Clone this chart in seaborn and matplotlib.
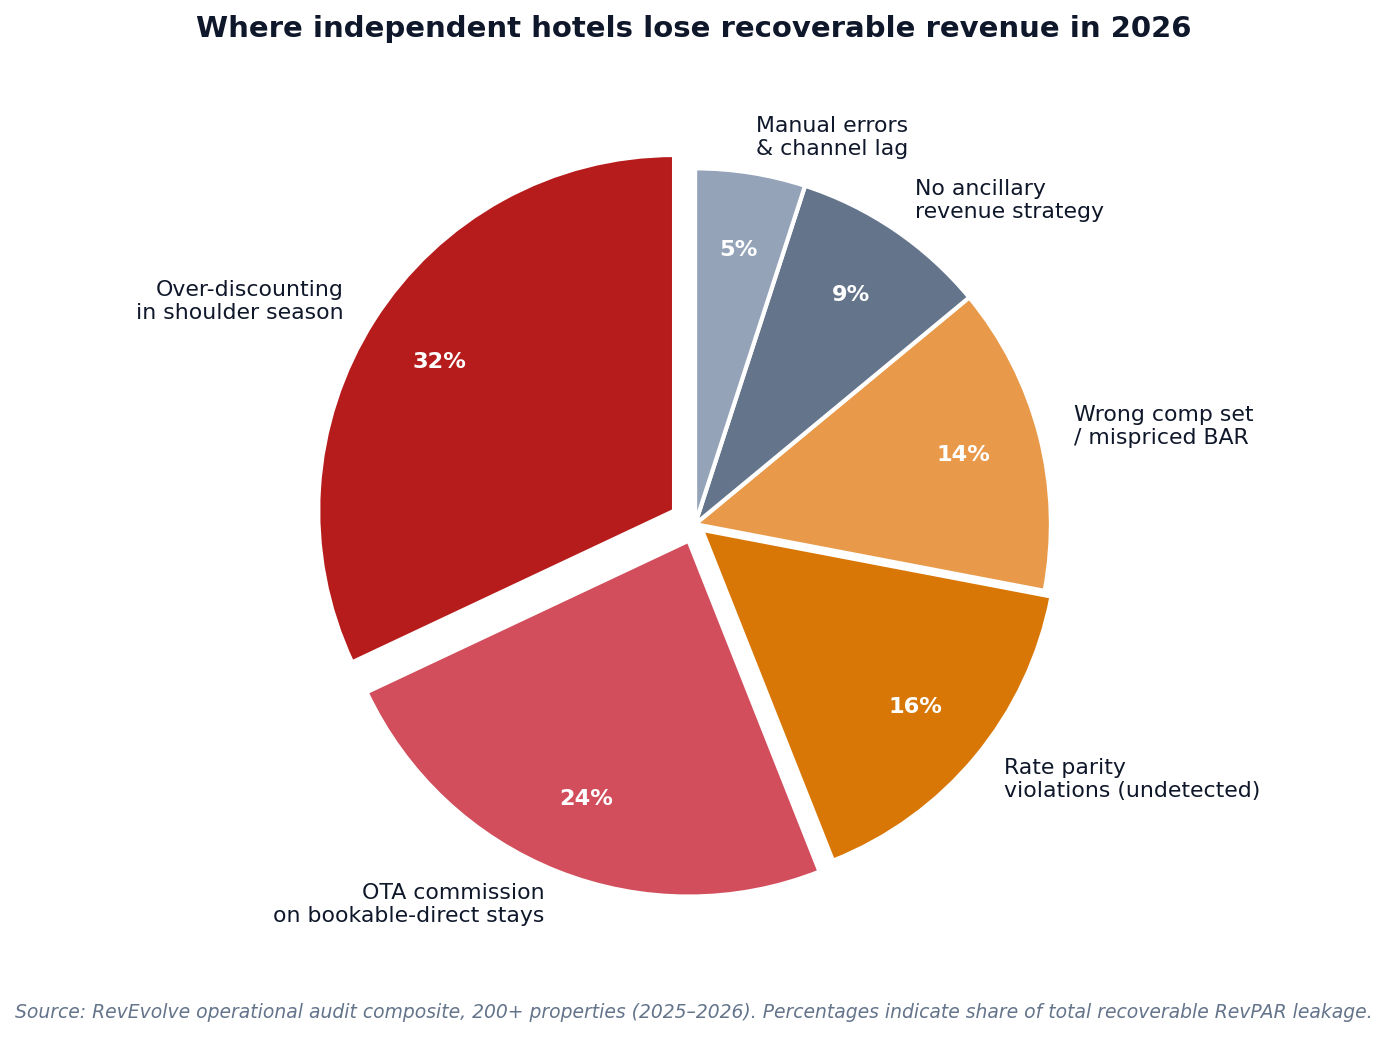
import matplotlib
matplotlib.use("Agg")
import matplotlib.pyplot as plt
import seaborn as sns

# ------------------ DATA ------------------
categories = [
    "Over-discounting\nin shoulder season",
    "OTA commission\non bookable-direct stays",
    "Rate parity\nviolations (undetected)",
    "Wrong comp set\n/ mispriced BAR",
    "No ancillary\nrevenue strategy",
    "Manual errors\n& channel lag",
]
shares = [32, 24, 16, 14, 9, 5]
colors = ["#B71C1D", "#D24E5C", "#D97706", "#E89A4A", "#64748B", "#94A3B8"]
explode = [0.07, 0.05, 0.025, 0, 0, 0]

title = "Where independent hotels lose recoverable revenue in 2026"
source = ("Source: RevEvolve operational audit composite, 200+ properties (2025\u20132026). "
          "Percentages indicate share of total recoverable RevPAR leakage.")

# ------------------ PLOT ------------------
sns.set_theme(style="white")
plt.rcParams['font.family'] = ['DejaVu Sans']

fig = plt.figure(figsize=(13.87, 10.38), dpi=100)
ax = fig.add_axes([0.1803, 0.0665, 0.6417, 0.857])

wedges, texts, autotexts = ax.pie(
    shares,
    labels=categories,
    colors=colors,
    explode=explode,
    startangle=90,
    autopct=lambda p: f"{p:.0f}%",
    pctdistance=0.78,
    labeldistance=1.1,
    wedgeprops=dict(edgecolor="white", linewidth=3),
    textprops=dict(fontsize=15.8, color="#0F172A"),
)
for t in autotexts:
    t.set_color("white")
    t.set_fontweight("bold")
    t.set_fontsize(16.2)

ax.set_aspect("equal")

fig.text(0.5, 0.972, title, ha="center", va="center",
         fontsize=21, fontweight="bold", color="#0F172A")
fig.text(0.5, 0.025, source, ha="center", va="center",
         fontsize=13.5, style="italic", color="#64748B")

fig.savefig("out.png", dpi=100)
plt.close(fig)
